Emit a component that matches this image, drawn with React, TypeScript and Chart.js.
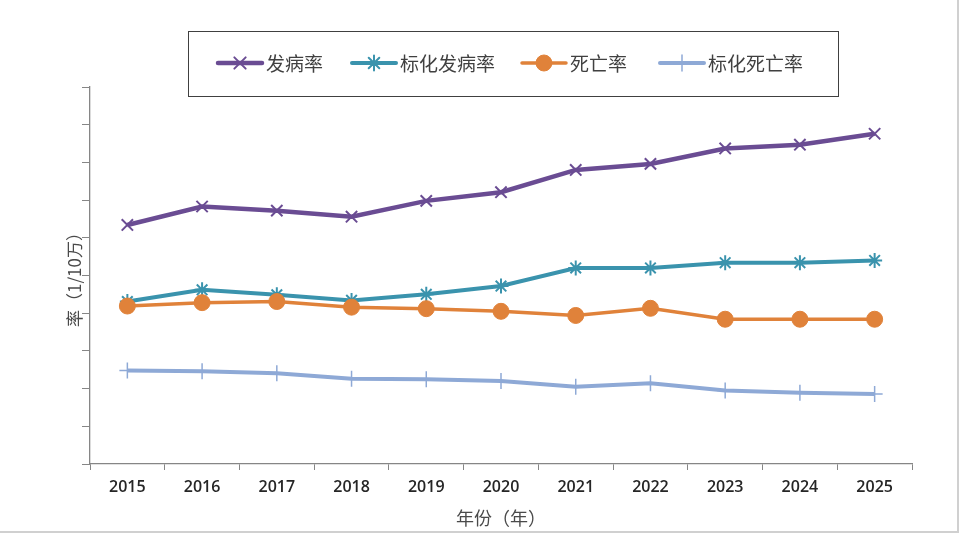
import React, { useEffect, useRef } from "react";
import { Chart, registerables } from "chart.js";
import { drawPoint } from "chart.js/helpers";

Chart.register(...registerables);

const years = ["2015", "2016", "2017", "2018", "2019", "2020", "2021", "2022", "2023", "2024", "2025"];
const incidence = [6.34, 6.83, 6.72, 6.56, 6.98, 7.21, 7.8, 7.96, 8.37, 8.47, 8.76];
const stdIncidence = [4.31, 4.62, 4.49, 4.34, 4.5, 4.72, 5.2, 5.2, 5.34, 5.34, 5.4];
const mortality = [4.19, 4.28, 4.31, 4.16, 4.12, 4.05, 3.94, 4.13, 3.84, 3.84, 3.84];
const stdMortality = [2.48, 2.46, 2.41, 2.26, 2.25, 2.2, 2.05, 2.14, 1.95, 1.89, 1.86];
const seriesNames = ["发病率", "标化发病率", "死亡率", "标化死亡率"];
const yTitle = "率（1/10万）";
const xTitle = "年份（年）";

const COLORS = ["#6A4C93", "#3A93AD", "#E0823A", "#8EA9D6"];
const AXIS = "#868686";
const CJK = '"Noto Sans CJK SC", "Noto Sans", sans-serif';

const legendStarts = [218, 352, 522, 660];

const legendBoxPlugin = {
  id: "legendBox",
  afterDraw(chart: any) {
    const ctx = chart.ctx;
    ctx.save();
    ctx.strokeStyle = "#404040";
    ctx.lineWidth = 1;
    ctx.strokeRect(188.5, 31.5, 650, 65);
    const cy = 63;
    chart.data.datasets.forEach((ds: any, i: number) => {
      const x0 = legendStarts[i];
      ctx.strokeStyle = ds.borderColor;
      ctx.lineWidth = ds.borderWidth;
      ctx.lineCap = "round";
      ctx.beginPath();
      ctx.moveTo(x0, cy);
      ctx.lineTo(x0 + 44, cy);
      ctx.stroke();
      ctx.strokeStyle = ds.pointBorderColor;
      ctx.fillStyle = ds.pointBackgroundColor;
      ctx.lineWidth = ds.pointBorderWidth;
      drawPoint(ctx, { pointStyle: ds.pointStyle, rotation: 0, radius: ds.pointRadius, borderWidth: ds.pointBorderWidth }, x0 + 22, cy);
      ctx.fillStyle = "#404040";
      ctx.font = `19px ${CJK}`;
      ctx.textBaseline = "middle";
      ctx.textAlign = "left";
      ctx.fillText(ds.label, x0 + 48, cy + 1);
    });
    ctx.restore();
  },
};

function makeDs(label: string, data: number[], color: string, style: string, radius: number, lw: number, pbw: number, order: number) {
  return {
    label,
    data,
    borderColor: color,
    backgroundColor: color,
    borderWidth: lw,
    pointStyle: style,
    pointRadius: radius,
    pointHoverRadius: radius,
    pointBorderWidth: pbw,
    pointBorderColor: color,
    pointBackgroundColor: color,
    tension: 0,
    fill: false,
    order,
  };
}

export default function App() {
  const ref = useRef<HTMLCanvasElement>(null);
  useEffect(() => {
    if (!ref.current) return;
    const chart = new Chart(ref.current, {
      type: "line",
      data: {
        labels: years,
        datasets: [
          makeDs(seriesNames[0], incidence, COLORS[0], "crossRot", 8, 4.5, 2, 4),
          makeDs(seriesNames[1], stdIncidence, COLORS[1], "star", 7.5, 4, 2, 3),
          makeDs(seriesNames[2], mortality, COLORS[2], "circle", 8, 3.5, 1, 2),
          makeDs(seriesNames[3], stdMortality, COLORS[3], "cross", 8, 4, 1.5, 1),
        ] as any,
      },
      options: {
        animation: false,
        responsive: false,
        maintainAspectRatio: false,
        devicePixelRatio: 1,
        layout: { padding: { top: 87, right: 48, left: 0, bottom: 0 } },
        plugins: {
          legend: { display: false },
          tooltip: { enabled: false },
          title: { display: false },
        },
        scales: {
          x: {
            type: "category",
            offset: true,
            grid: {
              display: true,
              offset: true,
              drawOnChartArea: false,
              drawTicks: true,
              tickLength: 6,
              color: AXIS,
              lineWidth: 1,
            },
            border: { display: true, color: AXIS, width: 1.3 },
            ticks: {
              color: "#262626",
              padding: 8,
              maxRotation: 0,
              font: { family: '"Open Sans", "Liberation Sans", sans-serif', size: 16, weight: 600 },
            },
            title: {
              display: true,
              text: xTitle,
              color: "#4a4a4a",
              font: { family: CJK, size: 18, weight: 400 },
              padding: { top: 0, bottom: 6 },
            },
            afterFit: (scale: any) => {
              scale.height = 71;
            },
          },
          y: {
            min: 0,
            max: 10,
            grid: {
              display: true,
              drawOnChartArea: false,
              drawTicks: true,
              tickLength: 8,
              color: AXIS,
              lineWidth: 1,
            },
            border: { display: true, color: AXIS, width: 1.3 },
            ticks: { display: false, stepSize: 1 },
            title: {
              display: true,
              text: yTitle,
              color: "#4a4a4a",
              font: { family: CJK, size: 17, weight: 400 },
              padding: { top: 64, bottom: 0 },
            },
            afterFit: (scale: any) => {
              scale.width = 90;
            },
          },
        },
      } as any,
      plugins: [legendBoxPlugin],
    });
    return () => chart.destroy();
  }, []);
  return (
    <div style={{ position: "fixed", left: 0, top: 0, width: 960, height: 535, background: "#fff" }}>
      <canvas ref={ref} width={960} height={535} style={{ width: 960, height: 535, display: "block" }} />
      <div
        style={{
          position: "absolute",
          left: 0,
          top: 0,
          width: 959,
          height: 533,
          boxSizing: "border-box",
          borderRight: "2px solid #d0d0d0",
          borderBottom: "2px solid #d0d0d0",
          pointerEvents: "none",
        }}
      />
    </div>
  );
}
